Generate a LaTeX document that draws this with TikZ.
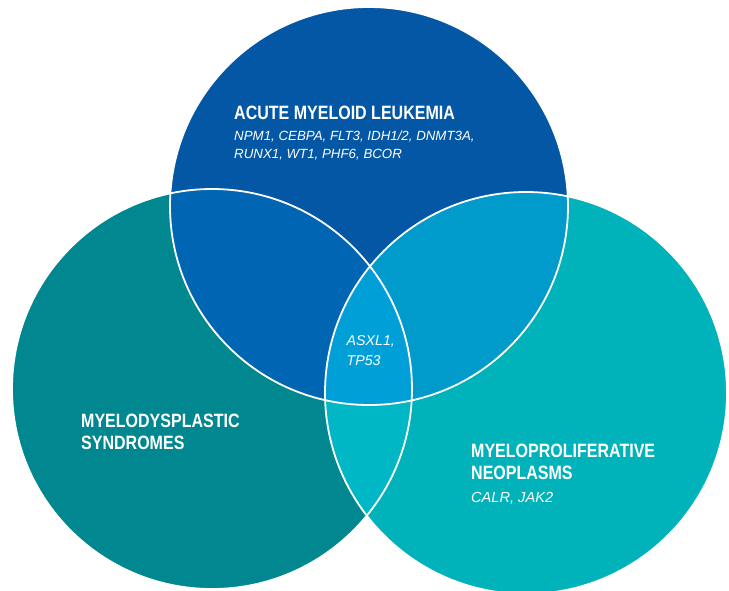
\documentclass[tikz,border=0pt]{standalone}
\usepackage{fontspec}
\newfontfamily\titlefont[FakeStretch=0.83]{Liberation Sans}
\newfontfamily\genefont{Liberation Sans}

\definecolor{amlblue}{HTML}{0457A5}
\definecolor{mdsteal}{HTML}{00878F}
\definecolor{mpncyan}{HTML}{00B2B9}
\definecolor{amlmds}{HTML}{0066B4}
\definecolor{amlmpn}{HTML}{009ACB}
\definecolor{mdsmpn}{HTML}{00B7C5}
\definecolor{allthree}{HTML}{009FD8}

\begin{document}
\begin{tikzpicture}[x=1pt, y=-1pt,
        titletext/.style={anchor=base west, inner sep=0pt, text=white, font=\titlefont\bfseries\fontsize{19.3}{22}\selectfont},
        genetext/.style={anchor=base west, inner sep=0pt, text=white, font=\genefont\itshape\fontsize{#1}{18}\selectfont},
        genetext/.default=13.3]

        % the page, margins included
        \useasboundingbox (0,0) rectangle (729,590);

        % centres of the three circles
        \coordinate (aml) at (369,206);
        \coordinate (mds) at (212,389);
        \coordinate (mpn) at (526,393);

        % the circles on their own
        \fill[amlblue] (aml) circle[radius=199pt];
        \fill[mdsteal] (mds) circle[radius=200pt];
        \fill[mpncyan] (mpn) circle[radius=201pt];

        % where two of them overlap
        \begin{scope}
                \clip (mds) circle[radius=200pt];
                \fill[mdsmpn] (mpn) circle[radius=201pt];
        \end{scope}
        \begin{scope}
                \clip (aml) circle[radius=199pt];
                \fill[amlmds] (mds) circle[radius=200pt];
                \fill[amlmpn] (mpn) circle[radius=201pt];
                % and all three
                \clip (mds) circle[radius=200pt];
                \fill[allthree] (mpn) circle[radius=201pt];
        \end{scope}

        % white outlines
        \foreach \c/\r in {aml/199, mds/200, mpn/201}
                \draw[white, line width=1.8pt] (\c) circle[radius=\r pt];

        % labels
        \node[titletext] (amltitle) at (234,119.3) {ACUTE MYELOID LEUKEMIA};
        \node[genetext] (amlgenesa) at (234,140) {NPM1, CEBPA, FLT3, IDH1/2, DNMT3A,};
        \node[genetext] (amlgenesb) at (234,158.3) {RUNX1, WT1, PHF6, BCOR};

        \node[genetext=14.2] (sharedgenesa) at (346.5,345) {ASXL1,};
        \node[genetext=14.2] (sharedgenesb) at (346.5,365) {TP53};

        \node[titletext] (mdstitlea) at (81,427.3) {MYELODYSPLASTIC};
        \node[titletext] (mdstitleb) at (81,449.3) {SYNDROMES};

        \node[titletext] (mpntitlea) at (471,457.3) {MYELOPROLIFERATIVE};
        \node[titletext] (mpntitleb) at (471,479.3) {NEOPLASMS};
        \node[genetext=14.6] (mpngenes) at (471,502.7) {CALR, JAK2};

\end{tikzpicture}
\end{document}
